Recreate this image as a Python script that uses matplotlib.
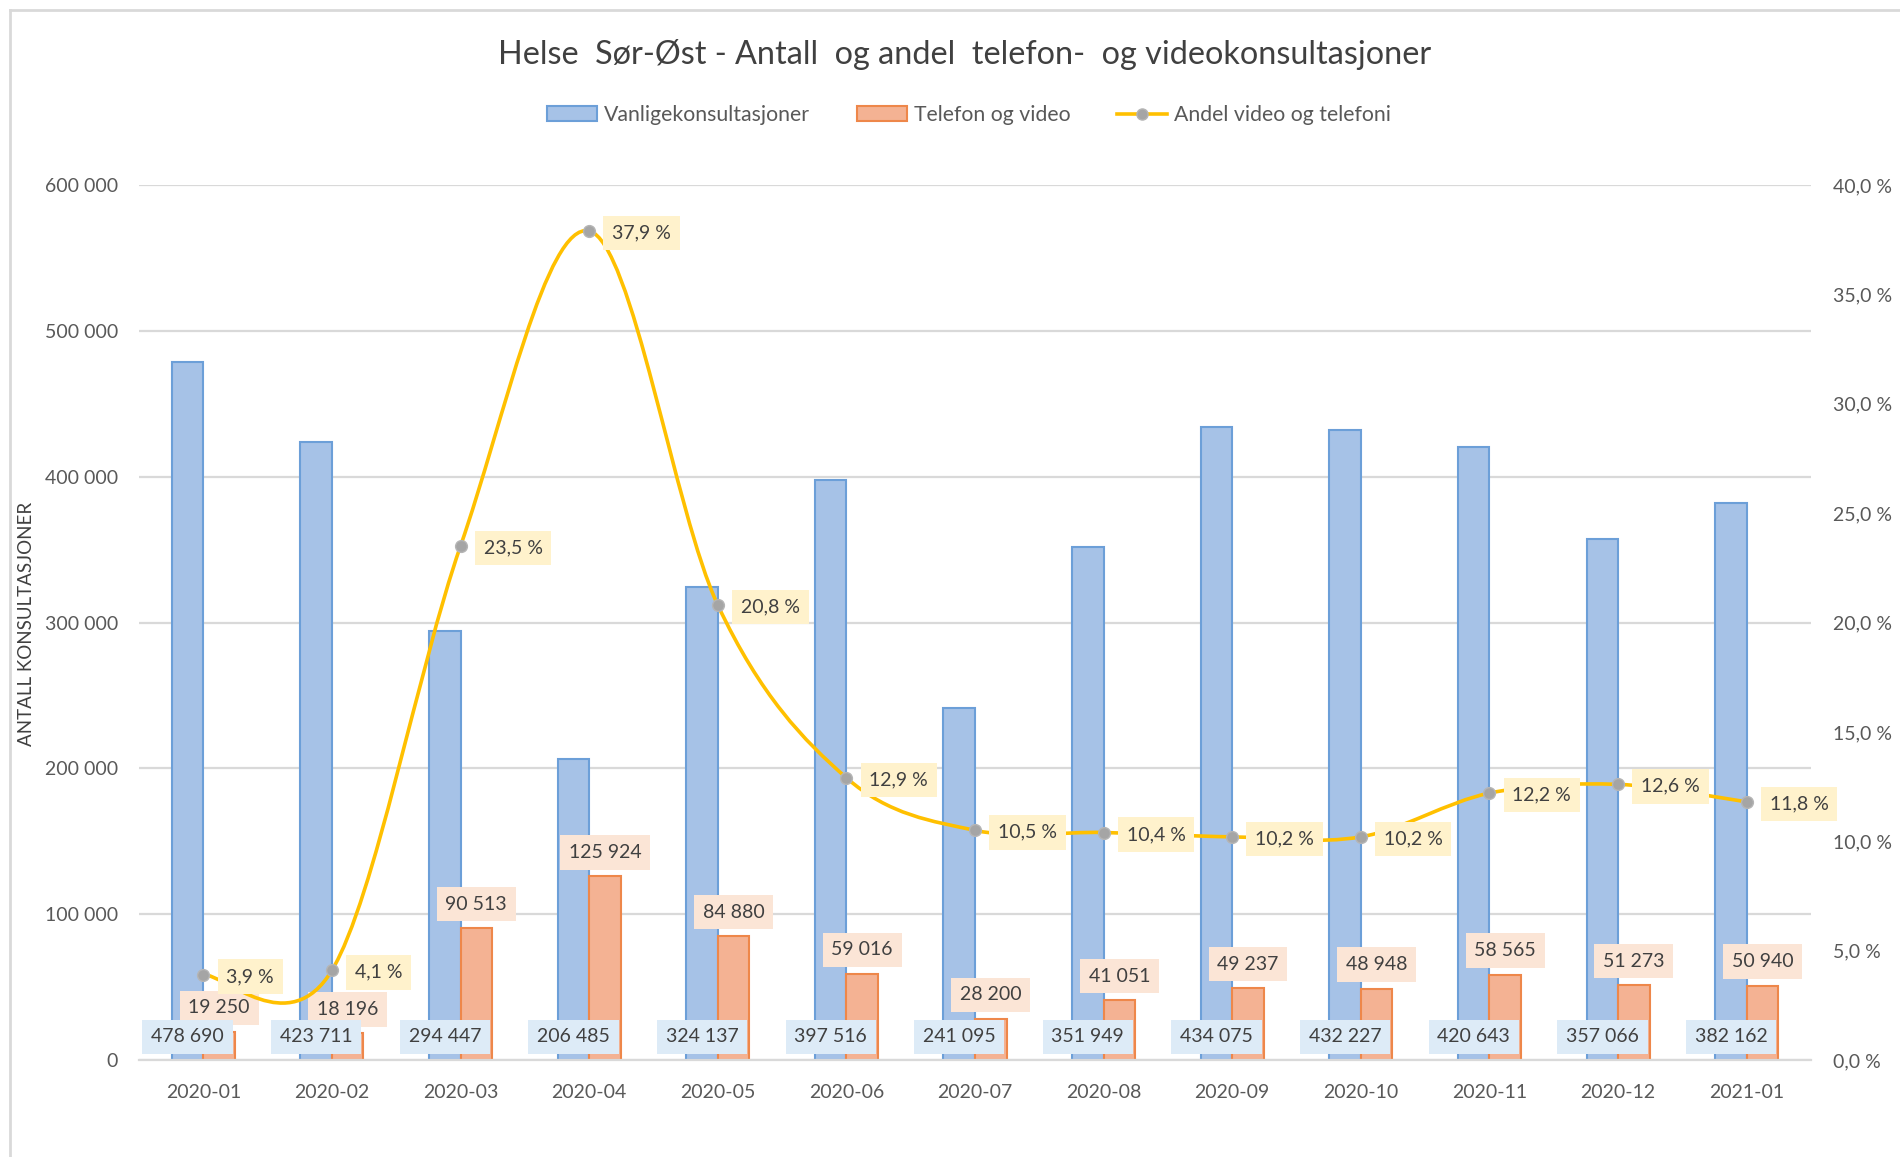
import numpy as np
import matplotlib
matplotlib.use("Agg")
import matplotlib.pyplot as plt
from matplotlib.path import Path
from matplotlib.patches import PathPatch, Patch
from matplotlib.lines import Line2D
from matplotlib.ticker import FuncFormatter, MultipleLocator

plt.rcParams['font.family'] = ['Lato', 'DejaVu Sans']

# ---------------- data ----------------
months = ["2020-01", "2020-02", "2020-03", "2020-04", "2020-05", "2020-06", "2020-07",
          "2020-08", "2020-09", "2020-10", "2020-11", "2020-12", "2021-01"]
vanlige = [478690, 423711, 294447, 206485, 324137, 397516, 241095,
           351949, 434075, 432227, 420643, 357066, 382162]
telefon_video = [19250, 18196, 90513, 125924, 84880, 59016, 28200,
                 41051, 49237, 48948, 58565, 51273, 50940]
andel = [3.9, 4.1, 23.5, 37.9, 20.8, 12.9, 10.5, 10.4, 10.2, 10.2, 12.2, 12.6, 11.8]

title = "Helse  Sør-Øst - Antall  og andel  telefon-  og videokonsultasjoner"
legend_labels = ["Vanligekonsultasjoner", "Telefon og video", "Andel video og telefoni"]
ylabel = "ANTALL KONSULTASJONER"

# ---------------- styles ----------------
TXT = "#595959"
LBL = "#404040"
GRID = "#D9D9D9"
BLUE_FACE = "#A6C2E7"
BLUE_EDGE = "#6C9FD8"
ORANGE_FACE = "#F4B293"
ORANGE_EDGE = "#EE874A"
LINE = "#FFC000"
MARK = "#A5A5A5"
FS = 14

def thousands(v):
    return f"{int(v):,}".replace(",", " ")

def pct(v):
    return f"{v:.1f}".replace(".", ",") + " %"

W, H = 1900, 1157
fig = plt.figure(figsize=(W / 100, H / 100), dpi=100)
L, R, T, B = 139, 1811, 185, 1060
ax = fig.add_axes([L / W, 1 - B / H, (R - L) / W, (B - T) / H])
ax2 = ax.twinx()

x = np.arange(len(months))
bw = 0.245

# gridlines
ax.set_ylim(0, 600000)
ax.set_xlim(-0.5, len(months) - 0.5)
ax.yaxis.set_major_locator(MultipleLocator(100000))
ax.grid(axis='y', color=GRID, lw=1.6)
ax.set_axisbelow(True)
for s in ["top", "left", "right"]:
    ax.spines[s].set_visible(False)
    ax2.spines[s].set_visible(False)
ax.spines["bottom"].set_color(GRID)
ax.spines["bottom"].set_linewidth(1.6)
ax2.spines["bottom"].set_visible(False)

ax.bar(x - bw / 2, vanlige, width=bw, color=BLUE_FACE, edgecolor=BLUE_EDGE, linewidth=1.5, zorder=2)
ax.bar(x + bw / 2, telefon_video, width=bw, color=ORANGE_FACE, edgecolor=ORANGE_EDGE, linewidth=1.5, zorder=2)

ax.yaxis.set_major_formatter(FuncFormatter(lambda v, p: thousands(v)))
ax.tick_params(axis='y', length=0, pad=15, labelsize=FS, labelcolor=TXT)
ax.set_xticks(x)
ax.set_xticklabels(months)
ax.tick_params(axis='x', length=0, pad=17, labelsize=FS, labelcolor=TXT)

# secondary axis
ax2.set_ylim(0, 40)
ax2.yaxis.set_major_locator(MultipleLocator(5))
ax2.yaxis.set_major_formatter(FuncFormatter(lambda v, p: pct(v)))
ax2.tick_params(axis='y', length=0, pad=16, labelsize=FS, labelcolor=TXT)

# smoothed line (Excel-style bezier smoothing) through the data points
pts = np.column_stack([x, andel]).astype(float)
verts = [tuple(pts[0])]
codes = [Path.MOVETO]
n = len(pts)
for i in range(n - 1):
    p0 = pts[max(i - 1, 0)]
    p1 = pts[i]
    p2 = pts[i + 1]
    p3 = pts[min(i + 2, n - 1)]
    c1 = p1 + (p2 - p0) / 6.0
    c2 = p2 - (p3 - p1) / 6.0
    verts += [tuple(c1), tuple(c2), tuple(p2)]
    codes += [Path.CURVE4] * 3
ax2.add_patch(PathPatch(Path(verts, codes), fill=False, edgecolor=LINE, lw=2.6, zorder=3,
                        capstyle='round', joinstyle='round'))
ax2.plot(x, andel, ls='none', marker='o', ms=8.5, mfc=MARK, mec="#B5B5B5", mew=1, zorder=4)
ax2.set_zorder(ax.get_zorder() + 1)
ax2.patch.set_visible(False)

# data labels
for xi, v in zip(x, telefon_video):
    ax.annotate(thousands(v), (xi + bw / 2, v), xytext=(0, 24), textcoords='offset pixels',
                ha='center', va='center', fontsize=FS, color=LBL, zorder=5,
                bbox=dict(boxstyle='square,pad=0.45', fc="#FBE5D6", ec='none'))
for xi, v in zip(x, vanlige):
    ax.annotate(thousands(v), (xi - bw / 2, 0), xytext=(0, 23), textcoords='offset pixels',
                ha='center', va='center', fontsize=FS, color=LBL, zorder=6,
                bbox=dict(boxstyle='square,pad=0.45', fc="#DDEBF7", ec='none'))
for xi, v in zip(x, andel):
    ax2.annotate(pct(v), (xi, v), xytext=(23, -2), textcoords='offset pixels',
                 ha='left', va='center', fontsize=FS, color=LBL, zorder=6,
                 bbox=dict(boxstyle='square,pad=0.45', fc="#FFF2CC", ec='none'))

# title, axis label, legend
fig.text(965 / W, 1 - 55 / H, title, ha='center', va='center', fontsize=23.3, color="#404040")
fig.text(27 / W, 1 - 624 / H, ylabel, rotation=90, ha='center', va='center', fontsize=13.5, color=LBL)

handles = [Patch(fc=BLUE_FACE, ec=BLUE_EDGE, lw=1.5),
           Patch(fc=ORANGE_FACE, ec=ORANGE_EDGE, lw=1.5),
           Line2D([], [], color=LINE, lw=2.6, marker='o', ms=8, mfc=MARK, mec="#B5B5B5")]
fig.legend(handles, legend_labels, loc='center', bbox_to_anchor=(969 / W, 1 - 115 / H), ncol=3,
           frameon=False, fontsize=15.3, labelcolor=TXT, handlelength=2.35, handleheight=0.68,
           handletextpad=0.33, columnspacing=2.2)

# chart frame (top and left borders)
fig.add_artist(Line2D([10 / W, 1], [1 - 10 / H, 1 - 10 / H], transform=fig.transFigure, color=GRID, lw=2))
fig.add_artist(Line2D([10 / W, 10 / W], [0, 1 - 10 / H], transform=fig.transFigure, color=GRID, lw=2))

fig.savefig("out.png", dpi=100, facecolor='white')
